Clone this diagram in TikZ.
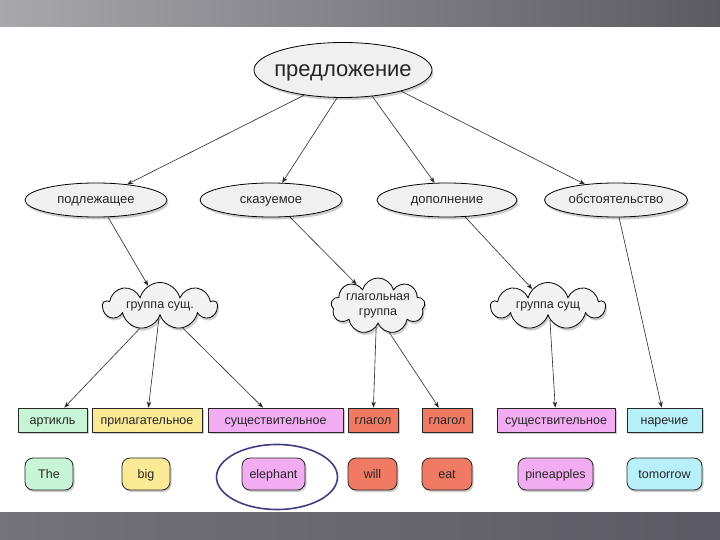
\documentclass[tikz,border=0pt]{standalone}
\usepackage{fontspec}
\setmainfont{Liberation Sans}
\usetikzlibrary{shapes.geometric,shapes.symbols,shadows,arrows.meta}

\definecolor{artcol}{RGB}{200,245,214}
\definecolor{adjcol}{RGB}{250,234,150}
\definecolor{nouncol}{RGB}{242,172,242}
\definecolor{verbcol}{RGB}{240,122,100}
\definecolor{advcol}{RGB}{184,240,250}
\definecolor{ringcol}{RGB}{62,62,130}
\definecolor{bandlight}{RGB}{168,167,172}
\definecolor{banddark}{RGB}{92,90,98}

\begin{document}
\begin{tikzpicture}[x=1pt, y=-1pt,
    part/.style={ellipse, draw=black, fill=gray!12, line width=0.8pt, inner sep=0pt,
        text height=10pt, text depth=2pt,
        drop shadow={shadow xshift=1.5pt, shadow yshift=-2.5pt, opacity=0.4},
        text=black!85, font=\fontsize{13}{15}\selectfont},
    group/.style={cloud, cloud puffs=9, cloud ignores aspect, draw=black, fill=gray!10,
        line width=0.8pt, inner sep=0pt, align=center,
        drop shadow={shadow xshift=1.5pt, shadow yshift=-2.5pt, opacity=0.4},
        text=black!85, font=\fontsize{12.5}{15}\selectfont},
    tag/.style={rectangle, draw=black!85, line width=0.8pt, inner sep=0pt, minimum height=24pt,
        text height=10pt, text depth=2pt,
        drop shadow={shadow xshift=1.5pt, shadow yshift=-2pt, opacity=0.4},
        text=black!85, font=\fontsize{12.5}{14}\selectfont},
    word/.style={rectangle, rounded corners=8pt, draw=black!85, line width=0.8pt, inner sep=0pt,
        minimum height=32pt, text height=10pt, text depth=2pt,
        drop shadow={shadow xshift=1.5pt, shadow yshift=-2pt, opacity=0.4},
        text=black!85, font=\fontsize{12.5}{14}\selectfont},
    link/.style={-{Stealth[length=6pt, width=4.5pt]}, black!85, line width=0.6pt}]

    \useasboundingbox (0,0) rectangle (720,540);

    % Bands
    \shade[left color=bandlight, right color=banddark] (0,0) rectangle (720,27);
    \shade[left color=banddark!85!white, right color=banddark] (0,512) rectangle (720,540);

    % Sentence
    \node[part, minimum width=178pt, minimum height=55pt, inner xsep=-10pt,
        text height=17pt, text depth=3.5pt, font=\fontsize{22}{25}\selectfont]
        (sent) at (343,70) {предложение};

    % Parts of the sentence
    \node[part, minimum width=142pt, minimum height=34pt] (subj) at (96,200) {подлежащее};
    \node[part, minimum width=142pt, minimum height=34pt] (pred) at (271,200) {сказуемое};
    \node[part, minimum width=140pt, minimum height=34pt] (obj) at (447,200) {дополнение};
    \node[part, minimum width=143pt, minimum height=34pt] (adv) at (616,200) {обстоятельство};

    % Groups
    \node[group, minimum width=114pt, minimum height=47pt] (ngroup) at (160,306) {группа сущ.};
    \node[group, minimum width=94pt, minimum height=54pt] (vgroup) at (378,306) {глагольная\\группа};
    \node[group, minimum width=114pt, minimum height=47pt] (ogroup) at (548,306) {группа сущ};

    % Word classes
    \node[tag, fill=artcol, minimum width=69pt] (tart) at (52.5,420) {артикль};
    \node[tag, fill=adjcol, minimum width=110pt] (tadj) at (147,420) {прилагательное};
    \node[tag, fill=nouncol, minimum width=135pt] (tnoun) at (275.5,420) {существительное};
    \node[tag, fill=verbcol, minimum width=50pt] (tverb) at (373,420) {глагол};
    \node[tag, fill=verbcol, minimum width=50pt] (tverbb) at (447,420) {глагол};
    \node[tag, fill=nouncol, minimum width=118pt] (tnounb) at (556,420) {существительное};
    \node[tag, fill=advcol, minimum width=75pt] (tadv) at (664.5,420) {наречие};

    % Words
    \node[word, fill=artcol, minimum width=48pt] (wthe) at (49,474) {The};
    \node[word, fill=adjcol, minimum width=48pt] (wbig) at (146,474) {big};
    \node[word, fill=nouncol, minimum width=63pt] (welephant) at (273.5,474) {elephant};
    \node[word, fill=verbcol, minimum width=49pt] (wwill) at (372.5,474) {will};
    \node[word, fill=verbcol, minimum width=50pt] (weat) at (447,474) {eat};
    \node[word, fill=nouncol, minimum width=75pt] (wpine) at (555.5,474) {pineapples};
    \node[word, fill=advcol, minimum width=75pt] (wtomorrow) at (664.5,474) {tomorrow};

    % Ring round the noun
    \node[ellipse, draw=ringcol, line width=1.6pt, minimum width=121pt, minimum height=65pt]
        (ring) at (277,477) {};

    % Arrows
    \draw[link] (sent.-147) -- (subj);
    \draw[link] (sent.-102) -- (pred);
    \draw[link] (sent.-42) -- (obj);
    \draw[link] (sent.-20) -- (adv);

    \draw[link] (subj.-55) -- (ngroup);
    \draw[link] (pred.-42) -- (vgroup);
    \draw[link] (obj.-43) -- (ogroup);
    \draw[link] (adv.-80) -- (tadv);

    \draw[link] (ngroup.-132) -- (tart);
    \draw[link] (ngroup.-95) -- (tadj);
    \draw[link] (ngroup.-44) -- (tnoun);
    \draw[link] (vgroup.-95) -- (tverb);
    \draw[link] (vgroup.-67) -- (tverbb);
    \draw[link] (ogroup.-82) -- (tnounb);

\end{tikzpicture}
\end{document}
